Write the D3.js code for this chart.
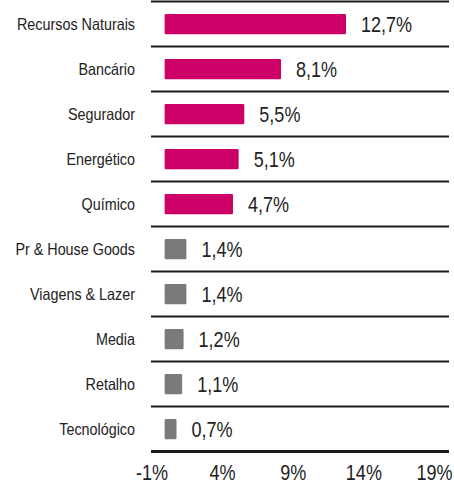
<!DOCTYPE html>
<html>
<head>
<meta charset="utf-8">
<script src="https://cdn.jsdelivr.net/npm/d3@7"></script>
<style>
  html, body { margin: 0; padding: 0; background: #fff; }
  svg { display: block; }
  text { font-family: "Liberation Sans", Arial, sans-serif; fill: #222; }
</style>
</head>
<body>
<svg id="chart" width="454" height="486"></svg>
<script>
const categories = ["Recursos Naturais", "Bancário", "Segurador", "Energético", "Químico",
                    "Pr & House Goods", "Viagens & Lazer", "Media", "Retalho", "Tecnológico"];
const values = [12.7, 8.1, 5.5, 5.1, 4.7, 1.4, 1.4, 1.2, 1.1, 0.7];
const groups = ["top", "top", "top", "top", "top", "other", "other", "other", "other", "other"];
const tickValues = [-1, 4, 9, 14, 19];

const colorMap = { top: "#cc0066", other: "#7a7a7a" };
const NARROW = "scale(0.82,1)";
const NARROW_CAT = "scale(0.87,1)";

const svg = d3.select("#chart");

const x = d3.scaleLinear().domain([-1, 19]).range([151.5, 434]);
const y = d3.scaleBand().domain(categories).range([1.5, 451.5]).paddingInner(0.55).paddingOuter(0.275);
const step = y.step();

const data = categories.map((c, i) => ({ cat: c, val: values[i], grp: groups[i] }));

// separator lines (band boundaries)
const lineY = categories.map((c, i) => y.range()[0] + i * step);
lineY.push(y.range()[0] + categories.length * step);
svg.append("g").selectAll("line").data(lineY).join("line")
  .attr("x1", 151).attr("x2", 449)
  .attr("y1", d => d).attr("y2", d => d)
  .attr("stroke", "#1a1a1a")
  .attr("stroke-width", (d, i) => i === lineY.length - 1 ? 3 : 2);

// bars
svg.append("g").selectAll("rect").data(data).join("rect")
  .attr("x", x(0) - 1)
  .attr("y", d => y(d.cat))
  .attr("width", d => x(d.val) - x(0) + 2)
  .attr("height", y.bandwidth())
  .attr("rx", 1.2)
  .attr("fill", d => colorMap[d.grp]);

// category labels
svg.append("g").selectAll("g").data(data).join("g")
  .attr("transform", d => `translate(135,${y(d.cat) + y.bandwidth() / 2})`)
  .append("text")
  .attr("transform", NARROW_CAT)
  .attr("dy", "0.35em")
  .attr("text-anchor", "end")
  .attr("font-size", 16.5)
  .text(d => d.cat);

// value labels
const fmt = v => v.toFixed(1).replace(".", ",") + "%";
svg.append("g").selectAll("g").data(data).join("g")
  .attr("transform", d => `translate(${x(d.val) + 16},${y(d.cat) + y.bandwidth() / 2})`)
  .append("text")
  .attr("transform", NARROW)
  .attr("dy", "0.36em")
  .attr("font-size", 22)
  .text(d => fmt(d.val));

// x axis
const axis = d3.axisBottom(x).tickValues(tickValues).tickSize(0).tickFormat(d => d + "%");
const gx = svg.append("g").attr("transform", "translate(0,480)").call(axis);
gx.attr("font-family", null).attr("font-size", null);
gx.select(".domain").remove();
gx.selectAll("text")
  .attr("y", 0).attr("dy", null)
  .attr("font-size", 22)
  .attr("transform", NARROW)
  .style("fill", "#222");
</script>
</body>
</html>
